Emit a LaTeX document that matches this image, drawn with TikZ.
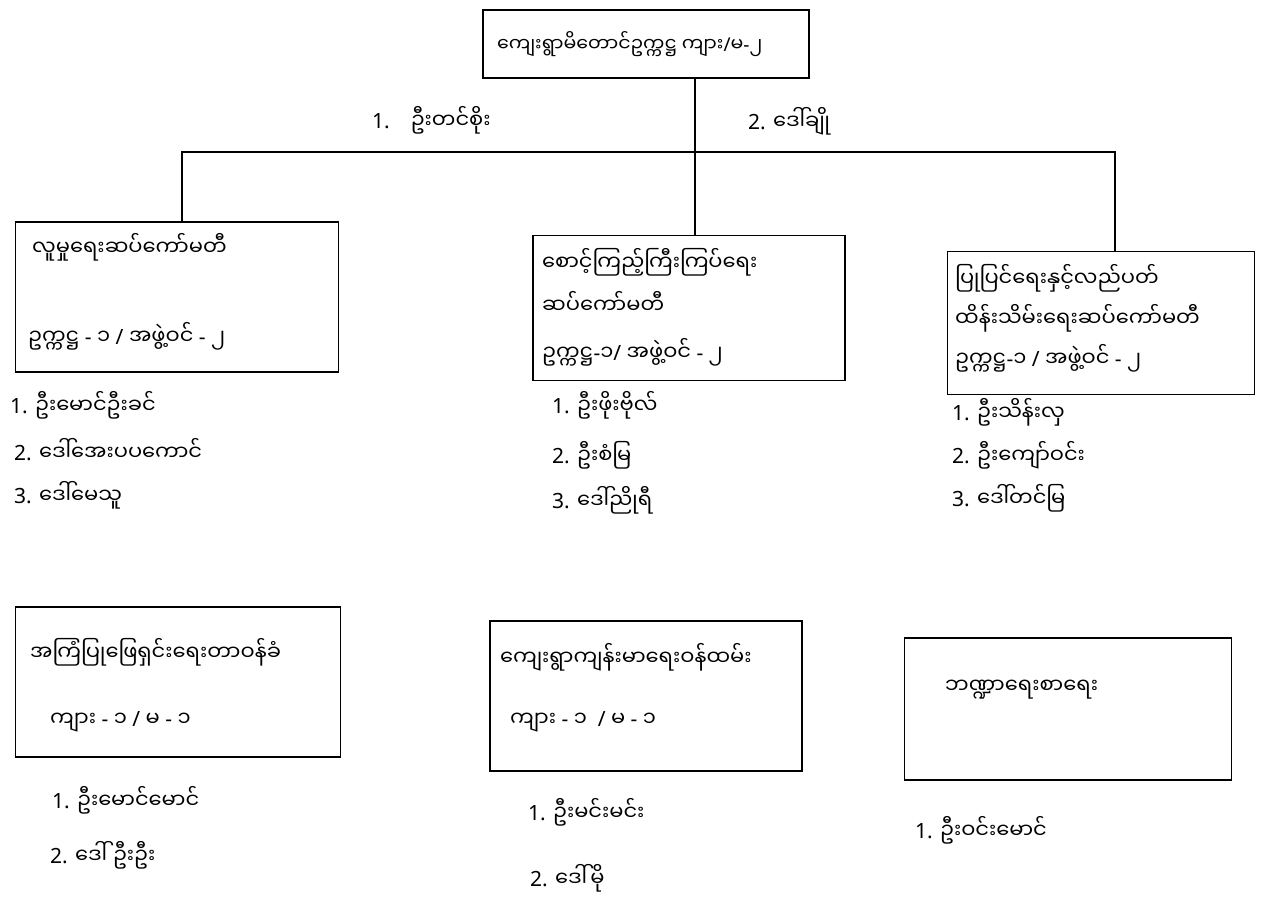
\documentclass[tikz,border=0pt]{standalone}
\usepackage{fontspec}
\newfontfamily\mya[Script=Myanmar]{Noto Sans Myanmar UI}
\newfontfamily\latf{Noto Sans}
\newcommand{\la}[1]{{\latf #1}}
\tikzset{
  box/.style={draw, line width=1.3pt, rectangle, inner sep=0pt},
  txt/.style={font=\mya\fontsize{21}{24}\selectfont, anchor=west, inner sep=0pt},
  toptxt/.style={txt, font=\mya\fontsize{19}{22}\selectfont},
  conn/.style={line width=1.1pt}
}
\begin{document}
\begin{tikzpicture}[x=1pt,y=-1pt]
\useasboundingbox (0,0) rectangle (1261,909);
% boxes
\node[box, minimum width=326pt, minimum height=68pt] (top) at (646,44) {};
\node[box, minimum width=323pt, minimum height=150pt] (b1) at (177,297) {};
\node[box, minimum width=312pt, minimum height=145pt] (b2) at (689,308) {};
\node[box, minimum width=307pt, minimum height=143pt] (b3) at (1101,323) {};
\node[box, minimum width=325pt, minimum height=150pt] (b4) at (178,682) {};
\node[box, minimum width=312pt, minimum height=150pt] (b5) at (646,696) {};
\node[box, minimum width=327pt, minimum height=142pt] (b6) at (1068,709) {};
% connectors
\coordinate (jc) at (695,152);
\coordinate (jl) at (182,152);
\coordinate (jr) at (1115,152);
\draw[conn] (jc |- top.south) -- (jc |- b2.north);
\draw[conn] (jl |- b1.north) -- (jl) -- (jr) -- (jr |- b3.north);
% top texts
\node[toptxt] (t0) at (497,44) {ကျေးရွာမိတောင်ဥက္ကဋ္ဌ ကျား\la{/}မ\la{-}၂};
\node[txt] (t1) at (372,120) {\la{1.}\quad ဦးတင်စိုး};
\node[txt] (t2) at (748,121) {\la{2.} ဒေါ်ချို};
% box 1
\node[txt] (a1) at (32,247) {လူမှုရေးဆပ်ကော်မတီ};
\node[txt] (a2) at (28,336) {ဥက္ကဋ္ဌ\la{ - }၁ \la{/} အဖွဲ့ဝင်\la{ - }၂};
\node[txt] (a3) at (10,405) {\la{1.} ဦးမောင်ဦးခင်};
\node[txt] (a4) at (14,450) {\la{2.} ဒေါ်အေးပပကောင်};
\node[txt] (a5) at (14,495) {\la{3.} ဒေါ်မေသူ};
% box 2
\node[txt] (c1) at (542,262) {စောင့်ကြည့်ကြီးကြပ်ရေး};
\node[txt] (c2) at (542,302) {ဆပ်ကော်မတီ};
\node[txt] (c3) at (542,352) {ဥက္ကဋ္ဌ\la{-}၁\la{/} အဖွဲ့ဝင်\la{ - }၂};
\node[txt] (c4) at (552,405) {\la{1.} ဦးဖိုးဗိုလ်};
\node[txt] (c5) at (552,455) {\la{2.} ဦးစံမြ};
\node[txt] (c6) at (552,500) {\la{3.} ဒေါ်ညိုရီ};
% box 3
\node[txt] (d1) at (955,278) {ပြုပြင်ရေးနှင့်လည်ပတ်};
\node[txt] (d2) at (955,318) {ထိန်းသိမ်းရေးဆပ်ကော်မတီ};
\node[txt] (d3) at (955,358) {ဥက္ကဋ္ဌ\la{-}၁ \la{/} အဖွဲ့ဝင်\la{ - }၂};
\node[txt] (d4) at (952,412) {\la{1.} ဦးသိန်းလှ};
\node[txt] (d5) at (952,455) {\la{2.} ဦးကျော်ဝင်း};
\node[txt] (d6) at (952,498) {\la{3.} ဒေါ်တင်မြ};
% box 4
\node[txt] (e1) at (30,652) {အကြံပြုဖြေရှင်းရေးတာဝန်ခံ};
\node[txt] (e2) at (50,722) {ကျား\la{ - }၁ \la{/} မ\la{ - }၁};
\node[txt] (e3) at (52,800) {\la{1.} ဦးမောင်မောင်};
\node[txt] (e4) at (50,855) {\la{2.} ဒေါ်ဦးဦး};
% box 5
\node[txt] (f1) at (500,657) {ကျေးရွာကျန်းမာရေးဝန်ထမ်း};
\node[txt] (f2) at (510,722) {ကျား\la{ - }၁ \la{ / }မ\la{ - }၁};
\node[txt] (f3) at (528,812) {\la{1.} ဦးမင်းမင်း};
\node[txt] (f4) at (530,878) {\la{2.} ဒေါ်မို};
% box 6
\node[txt] (g1) at (945,690) {ဘဏ္ဍာရေးစာရေး};
\node[txt] (g2) at (915,830) {\la{1.} ဦးဝင်းမောင်};
\end{tikzpicture}
\end{document}
